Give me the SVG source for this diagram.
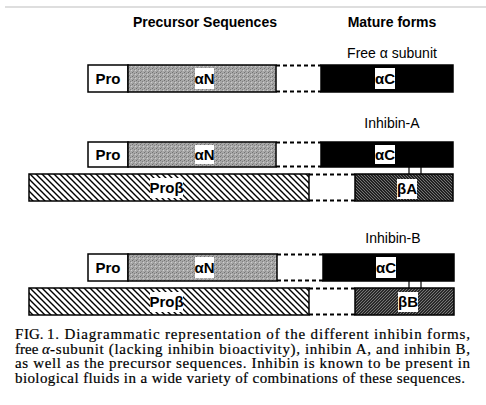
<svg xmlns="http://www.w3.org/2000/svg" width="486" height="405" viewBox="0 0 486 405">
<defs>
<pattern id="stip" width="4" height="4" patternUnits="userSpaceOnUse">
<rect width="4" height="4" fill="#a8a8a8"/>
<rect x="0" y="0" width="1" height="1" fill="#707070"/>
<rect x="2" y="1" width="1" height="1" fill="#808080"/>
<rect x="1" y="3" width="1" height="1" fill="#888"/>
<rect x="3" y="2" width="1" height="1" fill="#cfcfcf"/>
</pattern>
<pattern id="hatchPro" width="6" height="6" patternUnits="userSpaceOnUse">
<rect width="6" height="6" fill="#fff"/>
<path d="M-1,-1 L7,7 M-1,5 L1,7 M5,-1 L7,1" stroke="#000" stroke-width="1.4"/>
</pattern>
<pattern id="hatchA" width="3" height="3" patternUnits="userSpaceOnUse">
<rect width="3" height="3" fill="#222"/>
<path d="M-1,-1 L4,4" stroke="#8a8a8a" stroke-width="0.8"/>
</pattern>
<pattern id="hatchB" width="3" height="3" patternUnits="userSpaceOnUse">
<rect width="3" height="3" fill="#2a2a2a"/>
<path d="M-1,4 L4,-1" stroke="#8a8a8a" stroke-width="0.8"/>
</pattern>
</defs>
<style>
.hdr{font-family:"Liberation Sans",Arial,sans-serif;font-weight:bold;font-size:14px;fill:#000}
.lab{font-family:"Liberation Sans",Arial,sans-serif;font-size:14px;fill:#000}
.seg{font-family:"Liberation Sans",Arial,sans-serif;font-weight:bold;font-size:15px;fill:#000;text-anchor:middle}
.box{stroke:#000;stroke-width:1.5}
.dash{stroke:#000;stroke-width:2;stroke-dasharray:4 3;fill:none}
.tag{fill:#fff}
.cap{font-family:"Liberation Serif","Times New Roman",serif;font-size:15px;fill:#000;stroke:#000;stroke-width:0.2}
.link{stroke:#000;stroke-width:1.2}
</style>
<rect width="486" height="405" fill="#fff"/>
<line x1="5" y1="7" x2="486" y2="7" stroke="#bdbdbd" stroke-width="1.2"/>
<g id="headers">
<text class="hdr" x="205" y="27" text-anchor="middle">Precursor Sequences</text>
<text class="hdr" x="392" y="27" text-anchor="middle">Mature forms</text>
<text class="lab" x="392" y="58" text-anchor="middle">Free α subunit</text>
<text class="lab" x="392" y="128" text-anchor="middle">Inhibin-A</text>
<text class="lab" x="393" y="243" text-anchor="middle">Inhibin-B</text>
</g>
<g id="free-alpha">
<g id="fa-pro"><rect class="box" x="88" y="65" width="40" height="27" fill="#fff"/><text class="seg" x="108" y="84">Pro</text></g>
<g id="fa-aN"><rect class="box" x="128" y="65" width="148" height="27" fill="url(#stip)"/><rect class="tag" x="195" y="68" width="19" height="21"/><text class="seg" x="204.5" y="84">αN</text></g>
<g id="fa-gap"><line class="dash" x1="276" y1="65.5" x2="321" y2="65.5"/><line class="dash" x1="276" y1="91.5" x2="321" y2="91.5"/></g>
<g id="fa-aC"><rect class="box" x="321" y="65" width="132" height="27" fill="#000"/><rect class="tag" x="375" y="68" width="20" height="21"/><text class="seg" x="385" y="84">αC</text></g>
</g>
<g id="inhibin-A">
<g id="ia-pro"><rect class="box" x="88" y="142" width="40" height="25" fill="#fff"/><text class="seg" x="108" y="160">Pro</text></g>
<g id="ia-aN"><rect class="box" x="128" y="142" width="148" height="25" fill="url(#stip)"/><rect class="tag" x="195" y="145" width="19" height="19"/><text class="seg" x="204.5" y="160">αN</text></g>
<g id="ia-gap"><line class="dash" x1="276" y1="142.5" x2="321" y2="142.5"/><line class="dash" x1="276" y1="166.5" x2="321" y2="166.5"/></g>
<g id="ia-aC"><rect class="box" x="321" y="142" width="132" height="25" fill="#000"/><rect class="tag" x="375" y="145" width="20" height="19"/><text class="seg" x="385" y="160">αC</text></g>
<g id="ia-proB"><rect class="box" x="29" y="174" width="280" height="27" fill="url(#hatchPro)"/><rect class="tag" x="150" y="178" width="33" height="20"/><text class="seg" x="166.5" y="193">Proβ</text></g>
<g id="ia-gapB"><line class="dash" x1="309" y1="174.5" x2="355" y2="174.5"/><line class="dash" x1="309" y1="200.5" x2="355" y2="200.5"/></g>
<g id="ia-bA"><rect class="box" x="355" y="174" width="98" height="27" fill="url(#hatchA)"/><rect class="tag" x="397" y="179" width="20" height="20"/><text class="seg" x="407" y="194">βA</text></g>
</g>
<g id="inhibin-B">
<g id="ib-pro"><rect class="box" x="88" y="254" width="40" height="27" fill="#fff"/><text class="seg" x="108" y="273">Pro</text></g>
<g id="ib-aN"><rect class="box" x="128" y="254" width="149" height="27" fill="url(#stip)"/><rect class="tag" x="195" y="257" width="19" height="21"/><text class="seg" x="204.5" y="273">αN</text></g>
<g id="ib-gap"><line class="dash" x1="277" y1="254.5" x2="323" y2="254.5"/><line class="dash" x1="277" y1="280.5" x2="323" y2="280.5"/></g>
<g id="ib-aC"><rect class="box" x="323" y="254" width="131" height="27" fill="#000"/><rect class="tag" x="376" y="257" width="20" height="21"/><text class="seg" x="386" y="273">αC</text></g>
<g id="ib-proB"><rect class="box" x="29" y="288" width="280" height="27" fill="url(#hatchPro)"/><rect class="tag" x="150" y="292" width="33" height="20"/><text class="seg" x="166.5" y="307">Proβ</text></g>
<g id="ib-gapB"><line class="dash" x1="309" y1="288.5" x2="355" y2="288.5"/><line class="dash" x1="309" y1="314.5" x2="355" y2="314.5"/></g>
<g id="ib-bB"><rect class="box" x="355" y="288" width="99" height="27" fill="url(#hatchB)"/><rect class="tag" x="398" y="292" width="20" height="20"/><text class="seg" x="408" y="307">βB</text></g>
</g>
<g id="connectors">
<line class="link" x1="409" y1="167" x2="409" y2="174"/>
<line class="link" x1="421" y1="167" x2="421" y2="174"/>
<line class="link" x1="409" y1="281" x2="409" y2="288"/>
<line class="link" x1="421" y1="281" x2="421" y2="288"/>
</g>
<g id="caption">
<text class="cap" x="15" y="339">F</text>
<text class="cap" x="24" y="339" font-size="12px">IG.</text>
<text class="cap" x="47" y="339" textLength="423" lengthAdjust="spacing">1. Diagrammatic representation of the different inhibin forms,</text>
<text class="cap" x="15" y="353.5">free</text>
<text class="cap" x="42" y="353.5" font-style="italic">α</text>
<text class="cap" x="50" y="353.5" textLength="420" lengthAdjust="spacing">-subunit (lacking inhibin bioactivity), inhibin A, and inhibin B,</text>
<text class="cap" x="15" y="368" textLength="455" lengthAdjust="spacing">as well as the precursor sequences. Inhibin is known to be present in</text>
<text class="cap" x="15" y="382.5" textLength="450" lengthAdjust="spacing">biological fluids in a wide variety of combinations of these sequences.</text>
</g>
</svg>
